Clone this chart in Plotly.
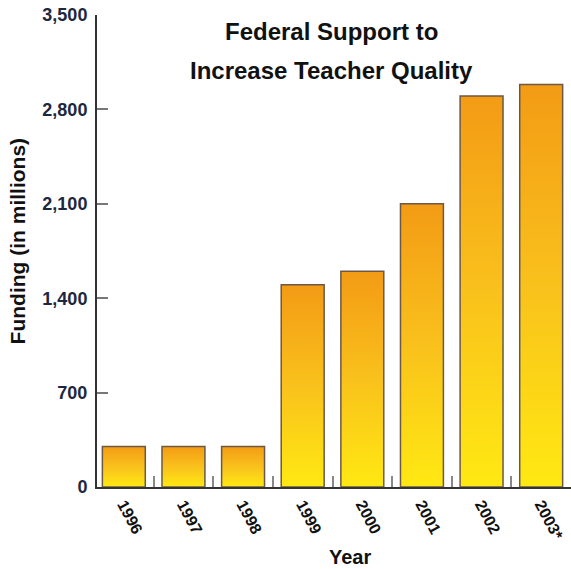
import plotly.graph_objects as go

# Federal teacher-quality funding, in millions of dollars
years = ["1996", "1997", "1998", "1999", "2000", "2001", "2002", "2003*"]
funding = [300, 300, 300, 1500, 1600, 2100, 2900, 2985]
y_ticks = [0, 700, 1400, 2100, 2800, 3500]

BAR_HALF = 0.36
YELLOW = "#ffe912"
MID = "#f9c11c"
ORANGE = "#f39b15"
OUTLINE = "#6b5946"

fig = go.Figure()

# each bar is a filled rectangle with its own vertical yellow-to-orange gradient
for i, (yr, val) in enumerate(zip(years, funding)):
    xs = [i - BAR_HALF, i - BAR_HALF, i + BAR_HALF, i + BAR_HALF, i - BAR_HALF]
    ys = [0, val, val, 0, 0]
    fig.add_trace(go.Scatter(
        x=xs, y=ys, mode="lines", fill="toself",
        fillgradient=dict(type="vertical", start=0, stop=val,
                          colorscale=[[0, YELLOW], [0.5, MID], [1, ORANGE]]),
        line=dict(color=OUTLINE, width=1.5),
        name=yr, showlegend=False, hoverinfo="skip",
    ))

fig.update_layout(
    width=571, height=569,
    margin=dict(l=97, r=0, t=15, b=82),
    paper_bgcolor="white", plot_bgcolor="white",
    font=dict(family="Liberation Sans, Arial, sans-serif", color="#111"),
    xaxis=dict(
        range=[-0.45, 7.5],
        tickmode="array", tickvals=list(range(len(years))), ticktext=years,
        tickangle=62, ticks="",
        tickfont=dict(size=16, color="#111", weight="bold"),
        showline=True, linecolor="#333", linewidth=2,
        showgrid=False, zeroline=False,
        minor=dict(tickmode="array",
                   tickvals=[i + 0.5 for i in range(len(years) - 1)],
                   ticks="inside", ticklen=11, tickcolor="#888", tickwidth=1.5,
                   showgrid=False),
    ),
    yaxis=dict(
        range=[0, 3500],
        tickmode="array", tickvals=y_ticks, tickformat=",",
        ticks="inside", ticklen=11, tickcolor="#777", tickwidth=1.5,
        tickfont=dict(size=18, color="#1d2740", weight="bold"),
        ticklabelstandoff=4,
        showline=True, linecolor="#333", linewidth=2,
        showgrid=False, zeroline=False,
    ),
    annotations=[
        dict(text="<b>Federal Support to</b>", xref="paper", yref="paper",
             x=0.494, y=0.964, showarrow=False,
             font=dict(size=24, color="#111"), xanchor="center", yanchor="middle"),
        dict(text="<b>Increase Teacher Quality</b>", xref="paper", yref="paper",
             x=0.494, y=0.883, showarrow=False,
             font=dict(size=24, color="#111"), xanchor="center", yanchor="middle"),
        dict(text="<b>Funding (in millions)</b>", xref="paper", yref="paper",
             x=-0.167, y=0.52, textangle=-90, showarrow=False,
             font=dict(size=21, color="#111"), xanchor="center", yanchor="middle"),
        dict(text="<b>Year</b>", xref="paper", yref="paper",
             x=0.534, y=-0.148, showarrow=False,
             font=dict(size=20, color="#111"), xanchor="center", yanchor="middle"),
    ],
)

fig.write_html("out.html")
